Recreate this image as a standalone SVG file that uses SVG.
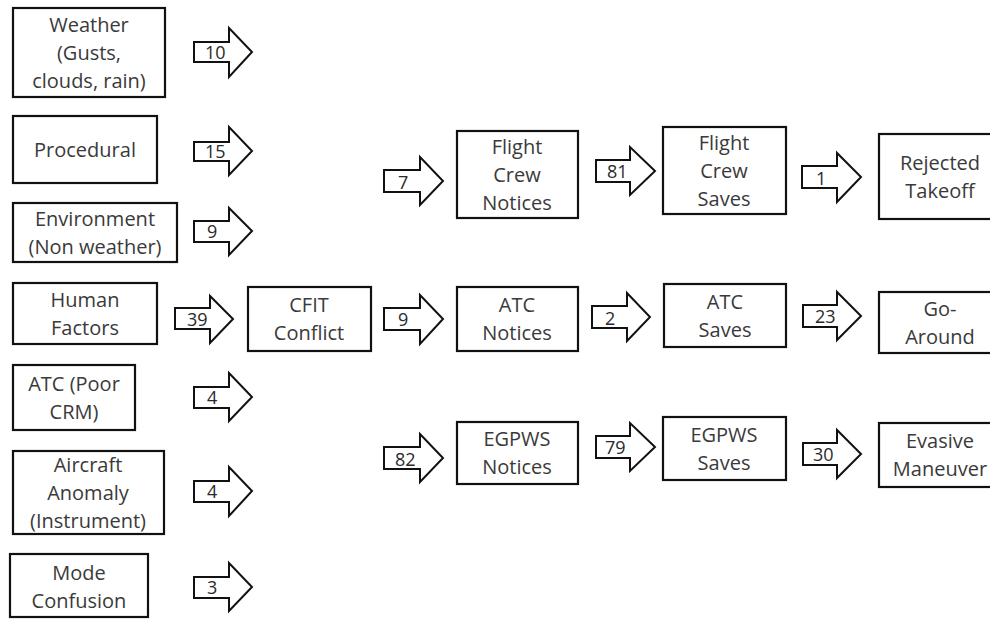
<svg xmlns="http://www.w3.org/2000/svg" width="990" height="619" viewBox="0 0 990 619">
<style>
.box{fill:#fff;stroke:#111;stroke-width:2.2}
.arr{fill:#fff;stroke:#111;stroke-width:2;stroke-linejoin:miter}
.t{font-family:"Open Sans","Liberation Sans",sans-serif;font-size:20px;fill:#3a3a3a;text-anchor:middle}
.n{font-family:"Open Sans","Liberation Sans",sans-serif;font-size:18px;fill:#2a2a2a}
</style>
<rect width="990" height="619" fill="#fff"/>
<g id="connectors">
<polygon class="arr" points="194,42 229,42 229,28 252,52 229,77 229,62 194,62"/>
<text class="n" x="205" y="59">10</text>
<polygon class="arr" points="194,142 229,142 229,127 252,151 229,175 229,161 194,161"/>
<text class="n" x="205" y="158">15</text>
<polygon class="arr" points="194,221 229,221 229,208 252,231 229,255 229,242 194,242"/>
<text class="n" x="207" y="238">9</text>
<polygon class="arr" points="175,308 210,308 210,296 233,319 210,343 210,329 175,329"/>
<text class="n" x="187" y="326">39</text>
<polygon class="arr" points="194,387 229,387 229,373 252,397 229,421 229,408 194,408"/>
<text class="n" x="207" y="404">4</text>
<polygon class="arr" points="194,481 229,481 229,467 252,491 229,516 229,502 194,502"/>
<text class="n" x="207" y="498">4</text>
<polygon class="arr" points="194,577 229,577 229,563 252,587 229,611 229,598 194,598"/>
<text class="n" x="207" y="594">3</text>
<polygon class="arr" points="384,170 420,170 420,157 443,181 420,205 420,192 384,192"/>
<text class="n" x="398" y="189">7</text>
<polygon class="arr" points="384,308 420,308 420,295 443,319 420,344 420,330 384,330"/>
<text class="n" x="398" y="326">9</text>
<polygon class="arr" points="384,447 420,447 420,434 443,458 420,482 420,469 384,469"/>
<text class="n" x="395" y="466">82</text>
<polygon class="arr" points="596,160 630,160 630,147 655,171 630,195 630,182 596,182"/>
<text class="n" x="607" y="178">81</text>
<polygon class="arr" points="592,306 627,306 627,293 650,317 627,341 627,328 592,328"/>
<text class="n" x="605" y="325">2</text>
<polygon class="arr" points="596,436 630,436 630,423 655,447 630,471 630,458 596,458"/>
<text class="n" x="605" y="454">79</text>
<polygon class="arr" points="802,166 837,166 837,153 861,177 837,202 837,188 802,188"/>
<text class="n" x="816" y="185">1</text>
<polygon class="arr" points="803,305 837,305 837,292 861,316 837,340 837,327 803,327"/>
<text class="n" x="815" y="323">23</text>
<polygon class="arr" points="803,443 837,443 837,430 861,454 837,478 837,465 803,465"/>
<text class="n" x="813" y="461">30</text>
</g>
<g id="weather"><rect class="box" x="13" y="8" width="152" height="89"/>
<text class="t" x="89" y="32">Weather</text><text class="t" x="89" y="60">(Gusts,</text><text class="t" x="89" y="88">clouds, rain)</text></g>
<g id="procedural"><rect class="box" x="13" y="116" width="144" height="67"/>
<text class="t" x="85" y="157">Procedural</text></g>
<g id="environment"><rect class="box" x="13" y="203" width="164" height="59"/>
<text class="t" x="95" y="226">Environment</text><text class="t" x="95" y="254">(Non weather)</text></g>
<g id="human-factors"><rect class="box" x="13" y="283" width="144" height="61"/>
<text class="t" x="85" y="307">Human</text><text class="t" x="85" y="335">Factors</text></g>
<g id="atc-poor-crm"><rect class="box" x="13" y="365" width="122" height="65"/>
<text class="t" x="74" y="391">ATC (Poor</text><text class="t" x="74" y="419">CRM)</text></g>
<g id="aircraft-anomaly"><rect class="box" x="13" y="451" width="151" height="83"/>
<text class="t" x="88" y="472">Aircraft</text><text class="t" x="88" y="500">Anomaly</text><text class="t" x="88" y="528">(Instrument)</text></g>
<g id="mode-confusion"><rect class="box" x="10" y="554" width="138" height="63"/>
<text class="t" x="79" y="580">Mode</text><text class="t" x="79" y="608">Confusion</text></g>
<g id="cfit-conflict"><rect class="box" x="248" y="287" width="123" height="64"/>
<text class="t" x="309" y="312">CFIT</text><text class="t" x="309" y="340">Conflict</text></g>
<g id="flight-crew-notices"><rect class="box" x="457" y="131" width="121" height="87"/>
<text class="t" x="517" y="154">Flight</text><text class="t" x="517" y="182">Crew</text><text class="t" x="517" y="210">Notices</text></g>
<g id="atc-notices"><rect class="box" x="457" y="287" width="121" height="64"/>
<text class="t" x="517" y="312">ATC</text><text class="t" x="517" y="340">Notices</text></g>
<g id="egpws-notices"><rect class="box" x="457" y="422" width="121" height="62"/>
<text class="t" x="517" y="446">EGPWS</text><text class="t" x="517" y="474">Notices</text></g>
<g id="flight-crew-saves"><rect class="box" x="663" y="127" width="123" height="87"/>
<text class="t" x="724" y="150">Flight</text><text class="t" x="724" y="178">Crew</text><text class="t" x="724" y="206">Saves</text></g>
<g id="atc-saves"><rect class="box" x="664" y="284" width="122" height="63"/>
<text class="t" x="725" y="309">ATC</text><text class="t" x="725" y="337">Saves</text></g>
<g id="egpws-saves"><rect class="box" x="663" y="417" width="123" height="63"/>
<text class="t" x="724" y="442">EGPWS</text><text class="t" x="724" y="470">Saves</text></g>
<g id="rejected-takeoff"><rect class="box" x="879" y="134" width="122" height="85"/>
<text class="t" x="940" y="170">Rejected</text><text class="t" x="940" y="198">Takeoff</text></g>
<g id="go-around"><rect class="box" x="879" y="292" width="122" height="61"/>
<text class="t" x="940" y="316">Go-</text><text class="t" x="940" y="344">Around</text></g>
<g id="evasive-maneuver"><rect class="box" x="879" y="423" width="122" height="64"/>
<text class="t" x="940" y="448">Evasive</text><text class="t" x="940" y="476">Maneuver</text></g>
</svg>
